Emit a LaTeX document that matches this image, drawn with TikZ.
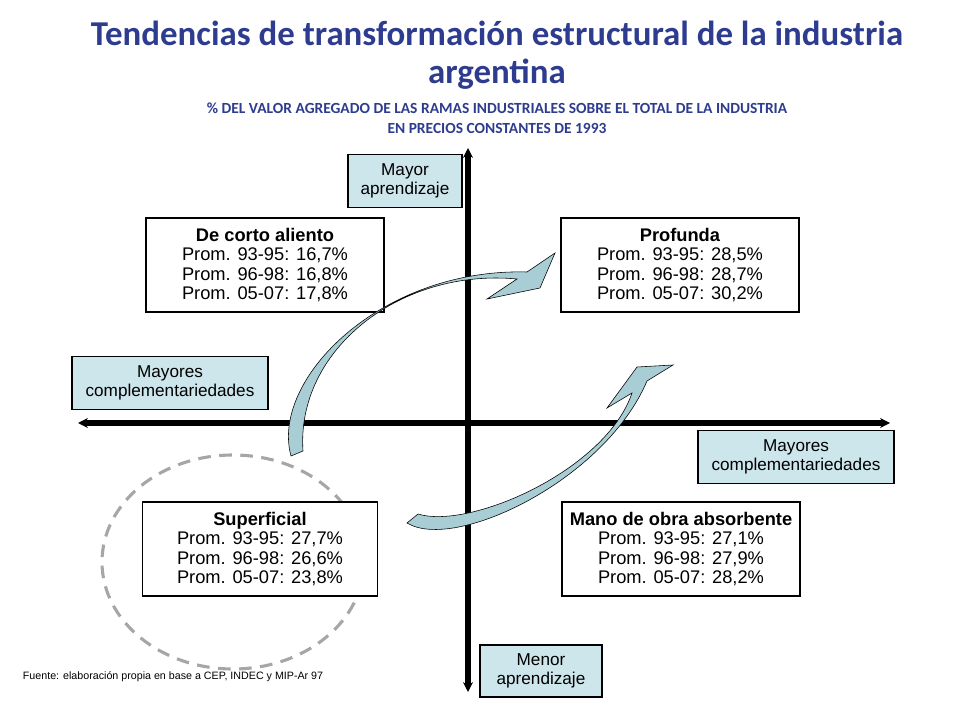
\documentclass[tikz,border=0pt]{standalone}
\usepackage{fontspec}
\setmainfont{Liberation Sans}
\newfontfamily\titlefont{Carlito}
\usetikzlibrary{arrows.meta}
\definecolor{titleblue}{HTML}{2E3C8F}
\definecolor{boxblue}{HTML}{CDE6EB}
\definecolor{ribbon}{HTML}{A8CDD5}
\begin{document}
\begin{tikzpicture}[
    x=0.025cm, y=-0.025cm,
    % --- STYLES ---
    axis_line/.style={line width=3.6pt, {Stealth[length=7pt,width=7pt]}-{Stealth[length=7pt,width=7pt]}},
    pole_box/.style={draw, fill=boxblue, thick, align=center, font=\fontsize{12.2}{14}\selectfont, inner sep=2pt},
    quad_box/.style={draw, fill=white, thick, align=center, font=\fontsize{13}{13.6}\selectfont, minimum width=5.95cm, minimum height=2.35cm},
    ribbon_arrow/.style={fill=ribbon, draw=black, line width=0.4pt}
]
\useasboundingbox (0,0) rectangle (960,720);

% --- TITLE ---
\node[font=\titlefont\bfseries\fontsize{24.8}{27}\selectfont, text=titleblue, align=center] (title) at (497,55)
    {Tendencias de transformación estructural de la industria\\argentina};
\node[font=\titlefont\bfseries\fontsize{11}{14}\selectfont, text=titleblue, align=center] (subtitle) at (497,118)
    {\% DEL VALOR AGREGADO DE LAS RAMAS INDUSTRIALES SOBRE EL TOTAL DE LA INDUSTRIA\\EN PRECIOS CONSTANTES DE 1993};

% --- AXES ---
\coordinate (v_top) at (468,148);
\coordinate (v_bot) at (468,692);
\coordinate (h_left) at (78,423);
\coordinate (h_right) at (890,423);
\draw[axis_line] (v_bot) -- (v_top);
\draw[axis_line] (h_left) -- (h_right);

% --- POLES ---
\node[pole_box, minimum width=2.85cm, minimum height=1.32cm] (mayor_apr) at (405,181) {Mayor\\aprendizaje};
\node[pole_box, minimum width=4.9cm, minimum height=1.32cm] (comp_left) at (170,383) {Mayores\\complementariedades};
\node[pole_box, minimum width=4.9cm, minimum height=1.32cm] (comp_right) at (796,457) {Mayores\\complementariedades};
\node[pole_box, minimum width=3.05cm, minimum height=1.3cm] (menor_apr) at (541,671) {Menor\\aprendizaje};

% --- DASHED ELLIPSE round Superficial ---
\draw[gray!70, line width=2.2pt, dash pattern=on 9pt off 6pt] (233,562) ellipse [x radius=131, y radius=107];

% --- QUADRANTS ---
\node[quad_box] (corto) at (265,265) {\textbf{De corto aliento}\\Prom. 93-95: 16,7\%\\Prom. 96-98: 16,8\%\\Prom. 05-07: 17,8\%};
\node[quad_box] (profunda) at (680,265) {\textbf{Profunda}\\Prom. 93-95: 28,5\%\\Prom. 96-98: 28,7\%\\Prom. 05-07: 30,2\%};
\node[quad_box, minimum width=5.88cm] (superficial) at (260,549) {\textbf{Superficial}\\Prom. 93-95: 27,7\%\\Prom. 96-98: 26,6\%\\Prom. 05-07: 23,8\%};
\node[quad_box] (mano_obra) at (681,549) {\textbf{Mano de obra absorbente}\\Prom. 93-95: 27,1\%\\Prom. 96-98: 27,9\%\\Prom. 05-07: 28,2\%};

% --- CURVED ARROWS ---
\fill[ribbon_arrow] (291,456) .. controls (270,380) and (380,268) .. (527,272)
    -- (555,253) -- (540,288) -- (487,299) -- (517,279)
    .. controls (400,268) and (296,350) .. (303,451) -- cycle;
\fill[ribbon_arrow] (407,523) .. controls (455,552) and (605,480) .. (647,381)
    -- (673,365) -- (637,367) -- (607,408) -- (632,393)
    .. controls (606,470) and (470,530) .. (418,514) -- cycle;

% --- SOURCE ---
\node[anchor=west, font=\fontsize{7.6}{9}\selectfont] (fuente) at (18,677) {Fuente: elaboración propia en base a CEP, INDEC y MIP-Ar 97};
\end{tikzpicture}
\end{document}
